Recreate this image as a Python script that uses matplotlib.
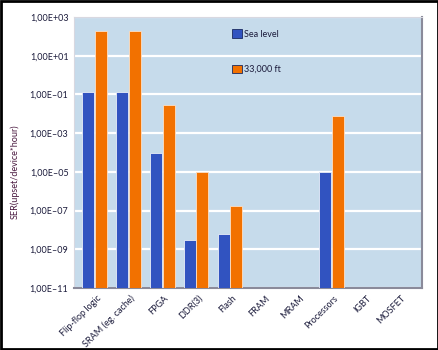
import matplotlib
matplotlib.use('Agg')
import matplotlib.pyplot as plt
import numpy as np
from matplotlib.patches import Rectangle

# SER data (upsets/device*hour)
categories = ['Flip-flop logic', 'SRAM (eg. cache)', 'FPGA', 'DDR(3)', 'Flash',
              'FRAM', 'MRAM', 'Processors', 'IGBT', 'MOSFET']
sea_level = [1.4e-1, 1.4e-1, 1.0e-4, 3.0e-9, 6.0e-9, np.nan, np.nan, 1.0e-5, np.nan, np.nan]
ft_33000 = [2.0e2, 2.0e2, 2.7e-2, 1.0e-5, 1.8e-7, np.nan, np.nan, 8.0e-3, np.nan, np.nan]
ytick_vals = [1e-11, 1e-9, 1e-7, 1e-5, 1e-3, 1e-1, 1e1, 1e3]
ytick_labels = ['1,00E\u201311', '1,00E\u201309', '1,00E\u201307', '1,00E\u201305',
                '1,00E\u201303', '1,00E\u201301', '1,00E+01', '1,00E+03']

plt.rcParams['font.family'] = ['Lato', 'DejaVu Sans']
txt_col = '#1c1c3c'

fig = plt.figure(figsize=(4.39, 3.50), dpi=100)
ax = fig.add_axes([74/439, 62/350, 348/439, 271/350])
ax.set_facecolor('#c6dbeb')

x = np.arange(len(categories))
w = 0.355
ax.bar(x - 0.185, sea_level, w, color='#3153c0', edgecolor='#e8eef8', linewidth=0.6,
       label='Sea level', zorder=3)
ax.bar(x + 0.185, ft_33000, w, color='#f27100', edgecolor='#fbe0c8', linewidth=0.6,
       label='33,000 ft', zorder=3)

ax.set_yscale('log')
ax.set_ylim(1e-11, 1e3)
ax.set_xlim(-0.61, 9.68)
ax.set_yticks(ytick_vals)
ax.set_yticklabels(ytick_labels)
ax.minorticks_off()
ax.yaxis.grid(True, color='white', linewidth=1.6, zorder=0)
ax.set_axisbelow(True)

ax.set_xticks(x + 0.05)
ax.set_xticklabels(categories, rotation=45, ha='right', va='top', rotation_mode='anchor')
ax.tick_params(axis='both', length=0, labelsize=6.5, colors=txt_col)
ax.tick_params(axis='y', pad=4)
ax.tick_params(axis='x', pad=4)

for s in ['top', 'left']:
    ax.spines[s].set_color('#d8d8e0')
for s in ['right', 'bottom']:
    ax.spines[s].set_color('#8a8a9a')
    ax.spines[s].set_linewidth(1.5)

ax.set_ylabel('SER(upset/device*hour)', fontsize=6.5, color='#4a1a40')
ax.yaxis.set_label_coords(-0.155, 0.43)

leg = ax.legend(loc='upper left', bbox_to_anchor=(0.43, 0.985), frameon=False,
                fontsize=6.5, handlelength=1.1, handleheight=1.1, handletextpad=0.3,
                labelspacing=2.9)
for t in leg.get_texts():
    t.set_color(txt_col)
for h in leg.legend_handles:
    h.set_edgecolor('#1a2a60')
    h.set_linewidth(0.6)

# black outer frame of the picture
fig.patches.append(Rectangle((0.002, 0.003), 0.996, 0.994, transform=fig.transFigure,
                             fill=False, edgecolor='black', linewidth=2))

fig.savefig('out.png', dpi=100)
